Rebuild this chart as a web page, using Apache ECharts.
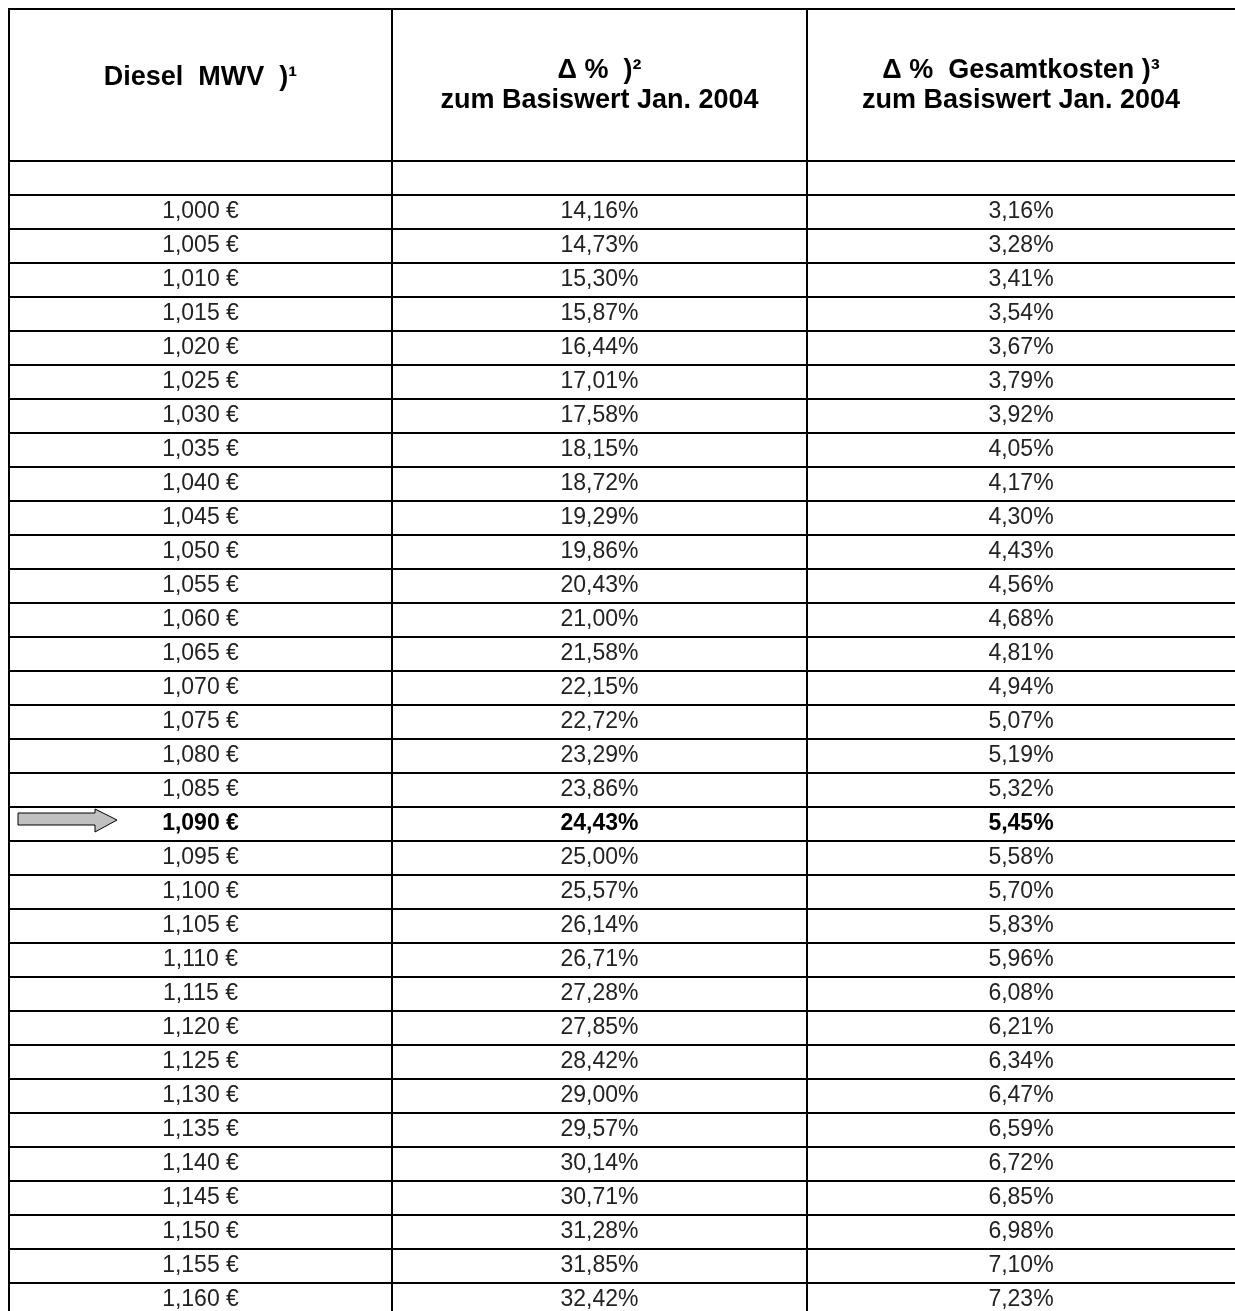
<!DOCTYPE html>
<html>
<head>
<meta charset="utf-8">
<script src="https://cdn.jsdelivr.net/npm/echarts@6/dist/echarts.min.js"></script>
<style>
html,body{margin:0;padding:0;background:#fff;}
#chart{width:1235px;height:1311px;}
</style>
</head>
<body>
<div id="chart"></div>
<script>
// table content
var headers = ['Diesel  MWV  )\u00b9', '\u0394 %  )\u00b2\nzum Basiswert Jan. 2004', '\u0394 %  Gesamtkosten )\u00b3\nzum Basiswert Jan. 2004'];
var diesel = ['1,000 €','1,005 €','1,010 €','1,015 €','1,020 €','1,025 €','1,030 €','1,035 €','1,040 €','1,045 €',
	'1,050 €','1,055 €','1,060 €','1,065 €','1,070 €','1,075 €','1,080 €','1,085 €','1,090 €','1,095 €',
	'1,100 €','1,105 €','1,110 €','1,115 €','1,120 €','1,125 €','1,130 €','1,135 €','1,140 €','1,145 €',
	'1,150 €','1,155 €','1,160 €'];
var deltaDiesel = ['14,16%','14,73%','15,30%','15,87%','16,44%','17,01%','17,58%','18,15%','18,72%','19,29%',
	'19,86%','20,43%','21,00%','21,58%','22,15%','22,72%','23,29%','23,86%','24,43%','25,00%',
	'25,57%','26,14%','26,71%','27,28%','27,85%','28,42%','29,00%','29,57%','30,14%','30,71%',
	'31,28%','31,85%','32,42%'];
var deltaTotal = ['3,16%','3,28%','3,41%','3,54%','3,67%','3,79%','3,92%','4,05%','4,17%','4,30%',
	'4,43%','4,56%','4,68%','4,81%','4,94%','5,07%','5,19%','5,32%','5,45%','5,58%',
	'5,70%','5,83%','5,96%','6,08%','6,21%','6,34%','6,47%','6,59%','6,72%','6,85%',
	'6,98%','7,10%','7,23%'];
var markedRow = '1,090 €';

var columns = [diesel, deltaDiesel, deltaTotal];

// layout
var colLeft = [9, 392, 807];
var colWidth = [383, 415, 428];
var headTop = 9, headHeight = 152, rowHeight = 34;
var FONT = '"Liberation Sans", Arial, sans-serif';

var myChart = echarts.init(document.getElementById('chart'));

var grids = [], xAxes = [], yAxes = [], series = [];

function cellRenderer(texts, colIdx, isHeader) {
	return function(params, api){
		var row = api.value(1);
		var c = api.coord([0, row]);
		var s = api.size([1, 1]);
		var x = c[0] - s[0] / 2, y = c[1] - s[1] / 2;
		var marked = !isHeader && row > 0 && diesel[row - 1] === markedRow;
		var label = isHeader ? texts[0] : (row === 0 ? '' : texts[row - 1]);
		var dy = 0;
		if(isHeader){
			dy = label.indexOf('\n') >= 0 ? 1 : -7;
		}
		// last column runs past the page edge, no right border visible
		var extra = colIdx === columns.length - 1 ? 12 : 0;
		var children = [{
			type:'rect',
			shape:{x:x, y:y, width:s[0] + extra, height:s[1]},
			style:{fill:'none', stroke:'#000', lineWidth:2}
		},{
			type:'text',
			style:{
				text:label, x:x + s[0] / 2, y:y + s[1] / 2 + dy,
				align:'center', verticalAlign:'middle',
				font:(isHeader || marked ? 'bold ' : '') + (isHeader ? '27px ' : '23px ') + FONT,
				lineHeight:30,
				fill:(isHeader || marked) ? '#000' : '#222'
			}
		}];
		//arrow pointing at current price
		if(marked && colIdx === 0){
			children.push({
				type:'polygon',
				shape:{points:[
					[x + 9, y + 6], [x + 86, y + 6], [x + 86, y + 2], [x + 108, y + 13],
					[x + 86, y + 25], [x + 86, y + 18], [x + 9, y + 18]
				]},
				style:{fill:'#c0c0c0', stroke:'#000', lineWidth:1}
			});
		}
		return {type:'group', children:children};
	};
}

for(var i = 0; i < 3; i++){
	// header cell
	var hg = grids.length;
	grids.push({left:colLeft[i], top:headTop, width:colWidth[i], height:headHeight, outerBoundsMode:'none'});
	xAxes.push({gridIndex:hg, type:'category', data:['h' + i], show:false});
	yAxes.push({gridIndex:hg, type:'category', data:['head'], show:false});
	series.push({
		type:'custom', xAxisIndex:hg, yAxisIndex:hg, silent:true, clip:false,
		renderItem:cellRenderer([headers[i]], i, true),
		data:[[0, 0]]
	});

	// body cells (first row is blank)
	var bg = grids.length;
	var rows = [''].concat(columns[i]);
	grids.push({left:colLeft[i], top:headTop + headHeight, width:colWidth[i], height:rows.length * rowHeight, outerBoundsMode:'none'});
	xAxes.push({gridIndex:bg, type:'category', data:['c' + i], show:false});
	yAxes.push({gridIndex:bg, type:'category', data:rows.map(function(r, k){ return k + ':' + r; }), inverse:true, show:false});
	series.push({
		type:'custom', xAxisIndex:bg, yAxisIndex:bg, silent:true, clip:false,
		renderItem:cellRenderer(columns[i], i, false),
		data:rows.map(function(r, k){ return [0, k]; })
	});
}

var option = {
	backgroundColor:'#fff',
	animation:false,
	grid:grids,
	xAxis:xAxes,
	yAxis:yAxes,
	series:series
};
myChart.setOption(option);
</script>
</body>
</html>
